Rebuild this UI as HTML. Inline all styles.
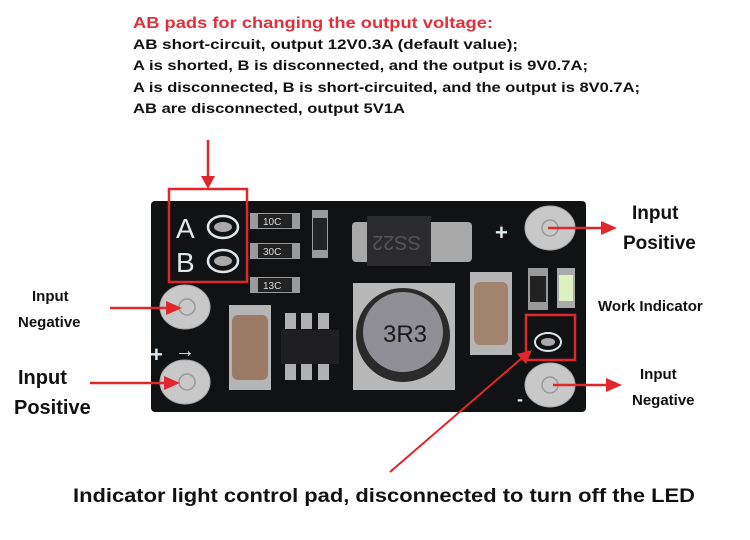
<!DOCTYPE html>
<html><head><meta charset="utf-8"><style>
html,body{margin:0;padding:0;background:#fff;}
svg{display:block;font-family:"Liberation Sans",sans-serif;font-weight:bold;}
</style></head><body>
<svg width="750" height="540" viewBox="0 0 750 540" xmlns="http://www.w3.org/2000/svg">
<rect width="750" height="540" fill="#fff"/>
<!-- header text -->
<text x="133" y="28" font-size="15.5" fill="#e0303c" textLength="360" lengthAdjust="spacingAndGlyphs">AB pads for changing the output voltage:</text>
<text x="133" y="49" font-size="14" fill="#111" textLength="385" lengthAdjust="spacingAndGlyphs">AB short-circuit, output 12V0.3A (default value);</text>
<text x="133" y="70" font-size="14" fill="#111" textLength="455" lengthAdjust="spacingAndGlyphs">A is shorted, B is disconnected, and the output is 9V0.7A;</text>
<text x="133" y="92" font-size="14" fill="#111" textLength="507" lengthAdjust="spacingAndGlyphs">A is disconnected, B is short-circuited, and the output is 8V0.7A;</text>
<text x="133" y="113" font-size="14" fill="#111" textLength="272" lengthAdjust="spacingAndGlyphs">AB are disconnected, output 5V1A</text>

<!-- board -->
<rect x="151" y="201" width="435" height="211" rx="4" fill="#111214"/>
<!-- AB letters and pads -->
<text x="176" y="238" font-size="28" fill="#dfe8ea" font-weight="normal">A</text>
<text x="176" y="272" font-size="28" fill="#dfe8ea" font-weight="normal">B</text>
<ellipse cx="223" cy="227" rx="15" ry="11" fill="none" stroke="#dfe8ea" stroke-width="2.5"/>
<ellipse cx="223" cy="227" rx="9" ry="5" fill="#aaa"/>
<ellipse cx="223" cy="261" rx="15" ry="11" fill="none" stroke="#dfe8ea" stroke-width="2.5"/>
<ellipse cx="223" cy="261" rx="9" ry="5" fill="#aaa"/>
<!-- resistors -->
<g font-size="10" fill="#ddd" font-weight="normal">
<rect x="250" y="213" width="50" height="16" fill="#9a9a9a"/><rect x="258" y="214" width="34" height="14" fill="#222"/><text x="263" y="225">10C</text>
<rect x="250" y="243" width="50" height="16" fill="#9a9a9a"/><rect x="258" y="244" width="34" height="14" fill="#222"/><text x="263" y="255">30C</text>
<rect x="250" y="277" width="50" height="16" fill="#9a9a9a"/><rect x="258" y="278" width="34" height="14" fill="#222"/><text x="263" y="289">13C</text>
</g>
<rect x="312" y="210" width="16" height="48" fill="#9a9a9a"/><rect x="313" y="218" width="14" height="32" fill="#222"/>
<!-- diode -->
<rect x="352" y="222" width="120" height="40" rx="4" fill="#a8a8a8"/>
<rect x="367" y="216" width="64" height="50" fill="#2b2b2d"/>
<text x="375" y="250" font-size="20" fill="#555" font-weight="normal" transform="rotate(180 398 243)">SS22</text>
<!-- big pads -->
<g fill="#c8c8c8" stroke="#aaa" stroke-width="1">
<ellipse cx="185" cy="307" rx="25" ry="22"/>
<ellipse cx="185" cy="382" rx="25" ry="22"/>
<ellipse cx="550" cy="228" rx="25" ry="22"/>
<ellipse cx="550" cy="385" rx="25" ry="22"/>
</g>
<g fill="none" stroke="#999" stroke-width="1.5">
<circle cx="187" cy="307" r="8"/><circle cx="187" cy="382" r="8"/><circle cx="550" cy="228" r="8"/><circle cx="550" cy="385" r="8"/>
</g>
<text x="495" y="240" font-size="22" fill="#dfe8ea">+</text>
<text x="150" y="362" font-size="22" fill="#dfe8ea">+</text>
<text x="175" y="357" font-size="20" fill="#dfe8ea" font-weight="normal">→</text>
<!-- inductor -->
<rect x="353" y="283" width="102" height="107" fill="#b8b8b8"/>
<circle cx="403" cy="335" r="47" fill="#2a2a2a"/>
<circle cx="403" cy="332" r="40" fill="#8f8f95"/>
<text x="383" y="342" font-size="24" fill="#1a1a1a" font-weight="normal">3R3</text>
<!-- left capacitor -->
<rect x="229" y="305" width="42" height="85" fill="#b5b5b5"/>
<rect x="232" y="315" width="36" height="65" rx="6" fill="#9a7a66"/>
<!-- right capacitor -->
<rect x="470" y="272" width="42" height="83" fill="#b5b5b5"/>
<rect x="474" y="282" width="34" height="63" rx="6" fill="#a08470"/>
<!-- IC -->
<g fill="#b0b0b0">
<rect x="285" y="313" width="11" height="16"/><rect x="301" y="313" width="11" height="16"/><rect x="318" y="313" width="11" height="16"/>
<rect x="285" y="364" width="11" height="16"/><rect x="301" y="364" width="11" height="16"/><rect x="318" y="364" width="11" height="16"/>
</g>
<rect x="281" y="330" width="58" height="34" fill="#1f1f21"/>
<!-- LED area -->
<rect x="528" y="268" width="20" height="42" fill="#9a9a9a"/><rect x="530" y="276" width="16" height="26" fill="#222"/>
<rect x="557" y="268" width="18" height="40" fill="#aaa"/><rect x="559" y="275" width="14" height="26" fill="#dff0c0"/>
<ellipse cx="548" cy="342" rx="13" ry="9" fill="none" stroke="#dfe8ea" stroke-width="2"/>
<ellipse cx="548" cy="342" rx="7" ry="4" fill="#aaa"/>
<text x="517" y="405" font-size="18" fill="#dfe8ea">-</text>

<!-- red boxes -->
<rect x="169" y="189" width="78" height="93" fill="none" stroke="#e0282c" stroke-width="2.5"/>
<rect x="526" y="315" width="49" height="45" fill="none" stroke="#e0282c" stroke-width="2.5"/>

<!-- arrows -->
<g stroke="#e0282c" stroke-width="2.5" fill="#e0282c">
<line x1="208" y1="140" x2="208" y2="178"/><polygon points="201,176 215,176 208,189" stroke="none"/>
<line x1="110" y1="308" x2="168" y2="308"/><polygon points="166,301 166,315 182,308" stroke="none"/>
<line x1="90" y1="383" x2="166" y2="383"/><polygon points="164,376 164,390 180,383" stroke="none"/>
<line x1="548" y1="228" x2="603" y2="228"/><polygon points="601,221 601,235 617,228" stroke="none"/>
<line x1="553" y1="385" x2="608" y2="385"/><polygon points="606,378 606,392 622,385" stroke="none"/>
<line x1="390" y1="472" x2="522" y2="358" stroke-width="2"/><polygon points="517,354 526,364 532,350" stroke="none"/>
</g>

<!-- labels -->
<text x="632" y="219" font-size="19" fill="#111">Input</text>
<text x="623" y="249" font-size="19" fill="#111">Positive</text>
<text x="598" y="311" font-size="15" fill="#111">Work Indicator</text>
<text x="32" y="301" font-size="15" fill="#111">Input</text>
<text x="18" y="327" font-size="15" fill="#111">Negative</text>
<text x="18" y="384" font-size="20" fill="#111">Input</text>
<text x="14" y="414" font-size="20" fill="#111">Positive</text>
<text x="640" y="379" font-size="15" fill="#111">Input</text>
<text x="632" y="405" font-size="15" fill="#111">Negative</text>
<text x="73" y="502" font-size="19" fill="#111" textLength="622" lengthAdjust="spacingAndGlyphs">Indicator light control pad, disconnected to turn off the LED</text>
</svg>
</body></html>
